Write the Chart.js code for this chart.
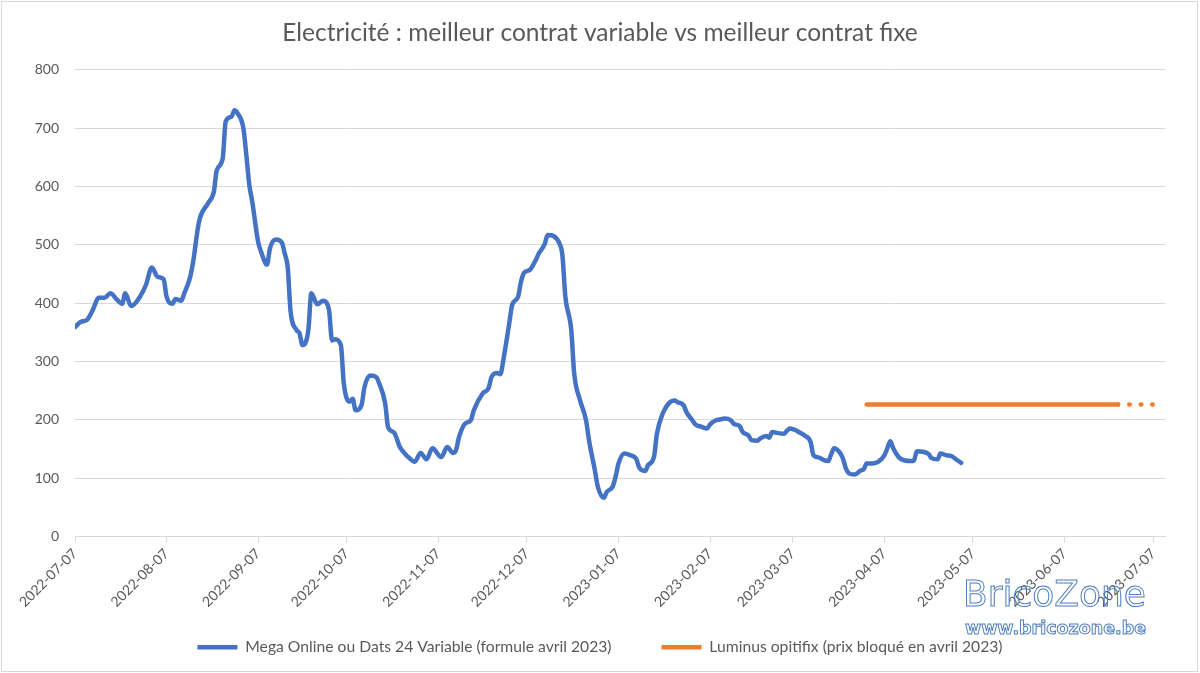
<!DOCTYPE html>
<html>
<head>
<meta charset="utf-8">
<script src="https://cdn.jsdelivr.net/npm/chart.js@4"></script>
<style>
  body { margin: 0; background: #fff; }
  #wrap { position: relative; width: 1200px; height: 673px; }
  #frame { position: absolute; left: 1px; top: 1px; width: 1195px; height: 669px; border: 1px solid #d9d9d9; pointer-events: none; }
  .wm { position: absolute; font-family: "DejaVu Sans"; line-height: 1; color: transparent; -webkit-text-stroke: 1px #4f7fbf; white-space: nowrap; }
</style>
</head>
<body>
<div id="wrap">
  <canvas id="chart" width="1200" height="673"></canvas>
  <div id="frame"></div>
  <div class="wm" style="left:963px; top:576px; font-size:36px;">BricoZone</div>
  <div class="wm" style="left:965px; top:620px; font-size:17.5px; font-weight:bold;">www.bricozone.be</div>
</div>
<script>
// --- Data ---
const chartTitle = "Electricité : meilleur contrat variable vs meilleur contrat fixe";
const startDate = "2022-07-07";

const tickLabels = [
  "2022-07-07", "2022-08-07", "2022-09-07", "2022-10-07", "2022-11-07", "2022-12-07",
  "2023-01-07", "2023-02-07", "2023-03-07", "2023-04-07", "2023-05-07", "2023-06-07", "2023-07-07"
];

// days since 2022-07-07
const variableDays = [
  0, 2, 4, 6, 8, 10, 12, 14, 16, 17,
  19, 22, 24, 26, 28, 30, 31, 33, 34, 36,
  37, 39, 40, 42, 45, 47, 48, 50, 51, 53,
  54, 55, 57, 58, 59, 60, 62, 63, 65, 66,
  68, 70, 71, 72, 73, 75, 76, 77, 79, 80,
  82, 84, 86, 87, 88, 90, 91, 93, 94, 95,
  97, 98, 100, 102, 103, 105, 106, 108, 110, 112,
  113, 115, 117, 119, 121, 124, 126, 128, 129, 130,
  132, 134, 135, 138, 140, 141, 143, 144, 145, 147,
  148, 150, 151, 152, 154, 156, 157, 159, 160, 162,
  164, 165, 166, 168, 169, 171, 173, 174, 176, 177,
  179, 180, 182, 183, 184, 186, 188, 190, 191, 193,
  194, 196, 197, 199, 201, 203, 204, 206, 207, 209,
  210, 212, 214, 215, 217, 218, 220, 222, 223, 225,
  226, 228, 229, 231, 232, 234, 235, 236, 238, 240,
  241, 242, 244, 245, 247, 249, 250, 252, 253, 255,
  256, 257, 259, 260, 261, 262, 264, 266, 267, 268,
  270, 272, 274, 275, 276, 277, 279, 281, 283, 284,
  285, 287, 289, 290, 292, 293, 295, 297, 298, 300
];
const variablePrices = [
  359, 368, 371, 388, 409, 409, 417, 407, 399, 417,
  395, 411, 431, 461, 445, 441, 411, 399, 407, 404,
  417, 445, 471, 540, 571, 591, 628, 648, 711, 720,
  731, 726, 700, 654, 603, 574, 505, 488, 466, 494,
  509, 504, 485, 462, 385, 354, 348, 328, 354, 417,
  398, 404, 388, 336, 338, 328, 262, 231, 236, 216,
  225, 256, 276, 273, 262, 228, 187, 178, 153, 140,
  135, 128, 143, 132, 151, 136, 153, 143, 148, 170,
  193, 199, 216, 245, 254, 273, 280, 278, 302, 365,
  397, 411, 437, 452, 457, 474, 485, 501, 517, 515,
  502, 482, 411, 354, 279, 233, 199, 165, 113, 85,
  66, 76, 85, 102, 125, 142, 139, 133, 118, 112,
  122, 136, 176, 211, 228, 233, 230, 225, 213, 199,
  192, 188, 185, 192, 199, 200, 202, 199, 193, 189,
  179, 173, 165, 164, 168, 172, 169, 179, 177, 176,
  181, 185, 182, 179, 173, 162, 139, 135, 132, 129,
  141, 151, 143, 133, 116, 108, 106, 113, 115, 125,
  125, 128, 139, 151, 163, 151, 135, 130, 129, 130,
  146, 145, 141, 134, 132, 142, 139, 137, 133, 126
];

const fixedDays = [268, 353, 365];
const fixedPrices = [226, 226, 226];

const variableLabel = "Mega Online ou Dats 24 Variable (formule avril 2023)";
const fixedLabel = "Luminus opitifix (prix bloqué en avril 2023)";

// --- Helpers ---
const dayMs = 86400000;
const daysFromStart = s => Math.round((Date.parse(s) - Date.parse(startDate)) / dayMs);
const tickDays = tickLabels.map(daysFromStart);

const textColor = "#595959";
const gridColor = "#d9d9d9";
const font = { family: "Lato", size: 14 };

// the rotated date labels hang below the x axis box, stop them being clipped
const unclipLabels = {
  id: "unclipLabels",
  afterLayout(chart) {
    chart.scales.x.bottom = chart.height;
  }
};

new Chart(document.getElementById("chart"), {
  type: "line",
  data: {
    datasets: [
      {
        label: variableLabel,
        data: variableDays.map((d, i) => ({ x: d, y: variablePrices[i] })),
        borderColor: "#4472c4",
        backgroundColor: "#4472c4",
        borderWidth: 4.5,
        borderCapStyle: "round",
        borderJoinStyle: "round",
        pointRadius: 0,
        cubicInterpolationMode: "monotone"
      },
      {
        label: fixedLabel,
        data: fixedDays.map((d, i) => ({ x: d, y: fixedPrices[i] })),
        borderColor: "#ed7d31",
        backgroundColor: "#ed7d31",
        borderWidth: 4.5,
        borderCapStyle: "round",
        pointRadius: 0,
        tension: 0,
        segment: {
          borderDash: ctx => ctx.p0DataIndex >= 1 ? [0.5, 11] : undefined
        }
      }
    ]
  },
  plugins: [unclipLabels],
  options: {
    responsive: false,
    animation: false,
    layout: { padding: { left: 0, right: 0, top: 0, bottom: 8 } },
    plugins: {
      title: {
        display: true,
        text: chartTitle,
        color: textColor,
        font: { family: "Lato", size: 24.5, weight: "normal" },
        padding: { top: 18, bottom: 22.5 }
      },
      legend: {
        position: "bottom",
        labels: {
          usePointStyle: true,
          pointStyle: "line",
          pointStyleWidth: 40,
          color: textColor,
          font: { family: "Lato", size: 15.7 },
          padding: 50
        }
      },
      tooltip: { enabled: false }
    },
    scales: {
      x: {
        type: "linear",
        min: 0,
        max: 369,
        afterBuildTicks: scale => { scale.ticks = tickDays.map(v => ({ value: v })); },
        afterFit: scale => { scale.height = 53; },
        ticks: {
          autoSkip: false,
          maxRotation: 45,
          minRotation: 45,
          color: textColor,
          font: font,
          callback: (v, i) => tickLabels[i]
        },
        grid: { drawOnChartArea: false, color: gridColor, tickLength: 6 },
        border: { color: gridColor }
      },
      y: {
        min: 0,
        max: 800,
        afterFit: scale => { scale.width = 75; },
        ticks: { stepSize: 100, color: textColor, font: font, padding: 16 },
        grid: { color: gridColor, drawTicks: false },
        border: { display: false }
      },
      // empty axis to keep the right margin
      right: {
        position: "right",
        afterFit: scale => { scale.width = 35; },
        ticks: { display: false },
        grid: { display: false },
        border: { display: false }
      }
    }
  }
});
</script>
</body>
</html>
